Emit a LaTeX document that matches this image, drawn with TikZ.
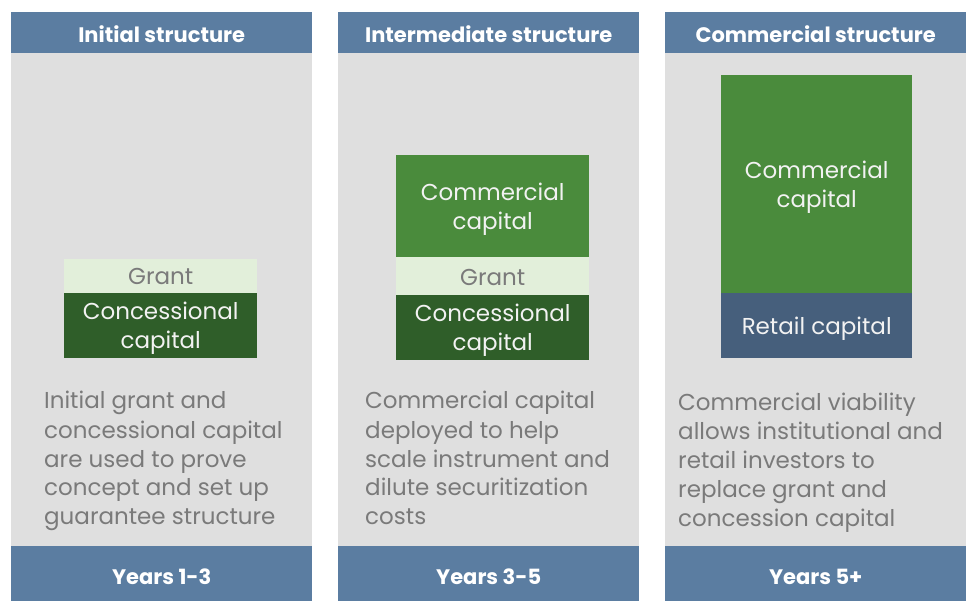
\documentclass[tikz,border=0pt]{standalone}
\usepackage{fontspec}
\setmainfont{Poppins}
\definecolor{hdr}{HTML}{5B7DA1}
\definecolor{panel}{HTML}{DFDFDF}
\definecolor{comm}{HTML}{4A8B3C}
\definecolor{conc}{HTML}{2F5E29}
\definecolor{grantc}{HTML}{E2EFDA}
\definecolor{retail}{HTML}{465F7C}
\definecolor{bodytxt}{HTML}{7A7A7A}
\definecolor{boxtxt}{HTML}{F2F2F2}
\begin{document}
\begin{tikzpicture}[x=1pt,y=-1pt,
  band/.style={fill=hdr,draw=none,inner sep=0pt,anchor=north west,minimum width=301pt,text=white,font=\fontsize{21}{24}\selectfont\bfseries},
  panelbox/.style={fill=panel,draw=none,inner sep=0pt,anchor=north west,minimum width=301pt,minimum height=493pt},
  cap/.style={fill=#1,draw=none,inner sep=0pt,anchor=north west,align=center,text depth=0pt,text=boxtxt,font=\fontsize{23}{29}\selectfont},
  bodytext/.style={anchor=base west,inner sep=0pt,align=left,text=bodytxt,font=\fontsize{23}{29}\selectfont}
]
\useasboundingbox (0,0) rectangle (967,601);
% headers
\node[band,minimum height=43pt] (h1) at (11,12) {Initial structure};
\node[band,minimum height=43pt] (h2) at (338,12) {Intermediate structure};
\node[band,minimum height=43pt] (h3) at (665,12) {Commercial structure};
% panels
\node[panelbox] (p1) at (11,53) {};
\node[panelbox] (p2) at (338,53) {};
\node[panelbox] (p3) at (665,53) {};
% footers
\node[band,minimum height=62pt] (f1) at (11,546) {Years 1-3};
\node[band,minimum height=62pt] (f2) at (338,546) {Years 3-5};
\node[band,minimum height=62pt] (f3) at (665,546) {Years 5+};
% column 1 stack
\node[cap=grantc,text=bodytxt,minimum width=193pt,minimum height=34pt] (g1) at (64,259) {Grant};
\node[cap=conc,minimum width=193pt,minimum height=65pt] (c1) at (64,293) {Concessional\\capital};
% column 2 stack
\node[cap=comm,minimum width=193pt,minimum height=102pt] (m2) at (396,155) {Commercial\\capital};
\node[cap=grantc,text=bodytxt,minimum width=193pt,minimum height=40pt] (g2) at (396,257) {Grant};
\node[cap=conc,minimum width=193pt,minimum height=65pt] (c2) at (396,295) {Concessional\\capital};
% column 3 stack
\node[cap=comm,minimum width=191pt,minimum height=218pt] (m3) at (721,75) {Commercial\\capital};
\node[cap=retail,minimum width=191pt,minimum height=65pt] (r3) at (721,293) {Retail capital};
% descriptions (base anchor = last line's baseline)
\node[bodytext] (d1) at (44,525) {Initial grant and\\concessional capital\\are used to prove\\concept and set up\\guarantee structure};
\node[bodytext] (d2) at (365,525) {Commercial capital\\deployed to help\\scale instrument and\\dilute securitization\\costs};
\node[bodytext] (d3) at (678,526) {Commercial viability\\allows institutional and\\retail investors to\\replace grant and\\concession capital};
\end{tikzpicture}
\end{document}
